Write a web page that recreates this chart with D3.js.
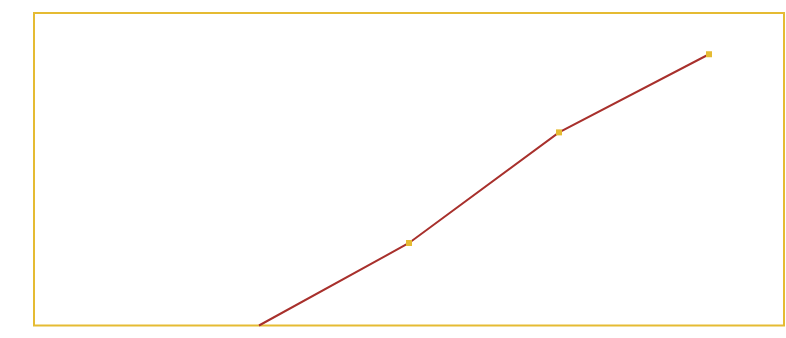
<!DOCTYPE html>
<html>
<head>
<meta charset="utf-8">
<script src="https://cdn.jsdelivr.net/npm/d3@7"></script>
<style>
  body { margin: 0; background: #fff; }
</style>
</head>
<body>
<div id="chart"></div>
<script>
// categories along the x axis (no labels are drawn in the picture)
const categories = [ 'c1', 'c2', 'c3', 'c4', 'c5' ];
// series values, first category has no value
const values = [ null, 0, 26.4, 61.8, 86.8 ];
// points that carry a marker
const showMarker = [ false, false, true, true, true ];
const yDomain = [ 0, 100 ];

const figure_width = 786;
const figure_height = 338;
const margin = { top: 13, right: 2, bottom: 12.5, left: 34 };
const plot_width = figure_width - margin.left - margin.right;
const plot_height = figure_height - margin.top - margin.bottom;

const frameColor = '#e5bb33';
const lineColor = '#a8302c';
const markerColor = '#e5bb33';

const svg = d3.select( '#chart' )
  .append( 'svg' )
    .attr( 'width', figure_width )
    .attr( 'height', figure_height )
  .append( 'g' )
    .attr( 'transform', 'translate(' + margin.left + ',' + margin.top + ')' );

const x = d3.scalePoint()
  .domain( categories )
  .range( [ 0, plot_width ] )
  .padding( 0.5 );

const y = d3.scaleLinear()
  .domain( yDomain )
  .range( [ plot_height, 0 ] );

const data = categories.map( function( c, i ) {
  return { cat: c, value: values[ i ], marker: showMarker[ i ] };
});

// frame
svg.append( 'rect' )
  .attr( 'x', 0 )
  .attr( 'y', 0 )
  .attr( 'width', plot_width )
  .attr( 'height', plot_height )
  .attr( 'fill', 'none' )
  .attr( 'stroke', frameColor )
  .attr( 'stroke-width', 2 );

const line = d3.line()
  .defined( function( d ) { return d.value !== null; } )
  .x( function( d ) { return x( d.cat ); } )
  .y( function( d ) { return y( d.value ); } );

svg.append( 'path' )
  .datum( data )
  .attr( 'd', line )
  .attr( 'fill', 'none' )
  .attr( 'stroke', lineColor )
  .attr( 'stroke-width', 2 );

const size = 6;
svg.selectAll( 'rect.marker' )
  .data( data.filter( function( d ) { return d.value !== null && d.marker; } ) )
  .enter()
  .append( 'rect' )
    .attr( 'class', 'marker' )
    .attr( 'x', function( d ) { return x( d.cat ) - size / 2; } )
    .attr( 'y', function( d ) { return y( d.value ) - size / 2; } )
    .attr( 'width', size )
    .attr( 'height', size )
    .attr( 'fill', markerColor );
</script>
</body>
</html>
